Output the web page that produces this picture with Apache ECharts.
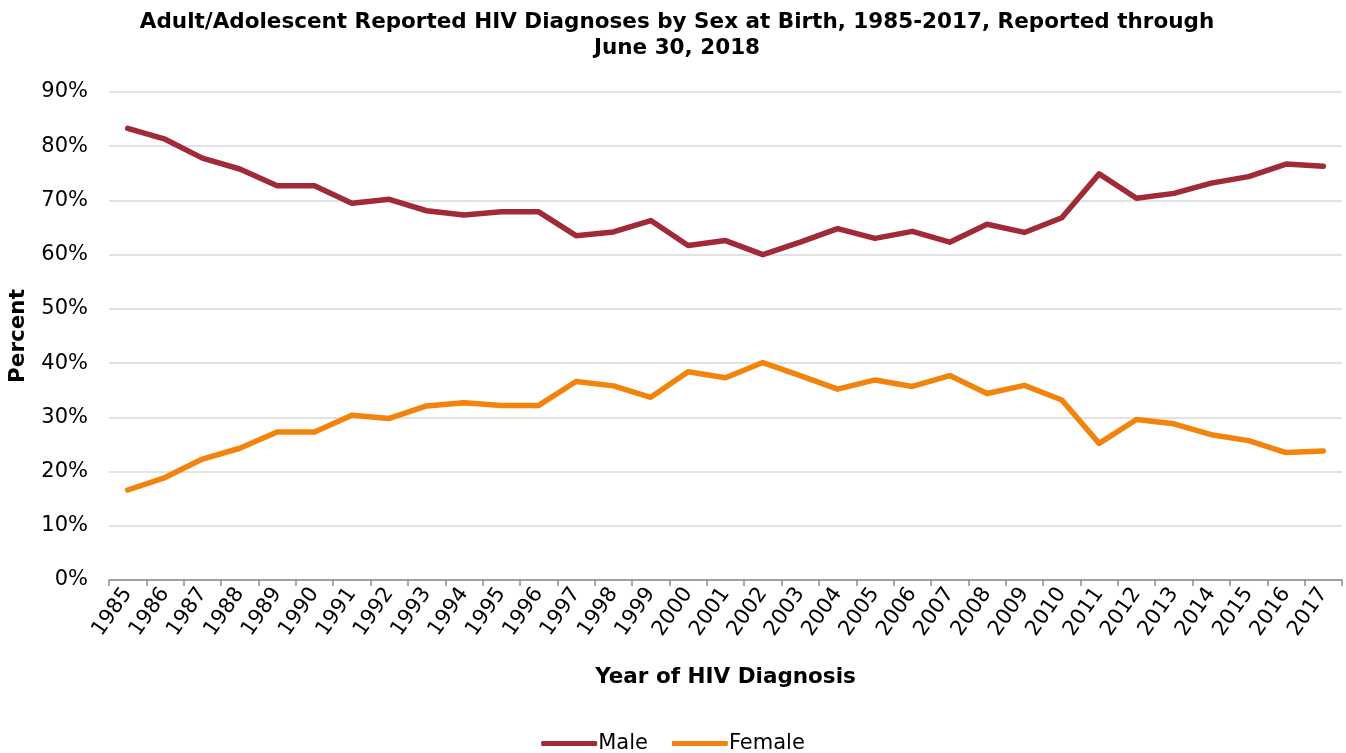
<!DOCTYPE html>
<html>
<head>
<meta charset="utf-8">
<script src="https://cdn.jsdelivr.net/npm/echarts@6/dist/echarts.min.js"></script>
<style>html,body{margin:0;padding:0;background:#fff;}#c{width:1346px;height:753px;}</style>
</head>
<body>
<div id="c"></div>
<script>
const years = ['1985','1986','1987','1988','1989','1990','1991','1992','1993','1994','1995','1996','1997','1998','1999','2000','2001','2002','2003','2004','2005','2006','2007','2008','2009','2010','2011','2012','2013','2014','2015','2016','2017'];
const male = [83.3,81.3,77.8,75.8,72.7,72.7,69.5,70.2,68.1,67.3,67.9,67.9,63.5,64.2,66.3,61.7,62.6,60.0,62.3,64.8,63.0,64.3,62.3,65.6,64.1,66.8,74.9,70.4,71.3,73.2,74.4,76.7,76.3];
const female = [16.6,18.9,22.3,24.3,27.3,27.3,30.4,29.8,32.1,32.7,32.2,32.2,36.6,35.8,33.7,38.4,37.3,40.1,37.7,35.2,36.9,35.7,37.7,34.4,35.9,33.2,25.2,29.6,28.8,26.8,25.7,23.5,23.8];
const yTicks = [0,10,20,30,40,50,60,70,80,90];

const FONT = 'DejaVu Sans, Verdana, sans-serif';
const chart = echarts.init(document.getElementById('c'));
chart.setOption({
  animation: false,
  textStyle: {fontFamily: FONT},
  title: {
    text: 'Adult/Adolescent Reported HIV Diagnoses by Sex at Birth, 1985-2017, Reported through\nJune 30, 2018',
    left: 672, top: 4, textAlign: 'center',
    textStyle: {fontFamily: FONT, fontSize: 21.5, fontWeight: 'bold', color: '#000', lineHeight: 26}
  },
  grid: {left: 109, right: 4, top: 92, bottom: 173, containLabel: false, outerBoundsMode: 'none'},
  legend: {
    top: 728, left: 'center',
    itemWidth: 56, itemHeight: 5, itemGap: 24,
    icon: 'roundRect',
    textStyle: {fontFamily: FONT, fontSize: 21, color: '#000', padding: [0,0,0,-4]},
    data: ['Male','Female']
  },
  xAxis: {
    type: 'category', data: years, boundaryGap: true,
    name: 'Year of HIV Diagnosis', nameLocation: 'middle', nameGap: 86,
    nameTextStyle: {fontFamily: FONT, fontSize: 21.5, fontWeight: 'bold', color: '#000'},
    axisLine: {lineStyle: {color: '#8c8c8c', width: 1.5}},
    axisTick: {show: true, length: 6, lineStyle: {color: '#8c8c8c', width: 1.5}},
    axisLabel: {rotate: 55, fontSize: 21, color: '#000', margin: 10, interval: 0, fontFamily: FONT}
  },
  yAxis: {
    type: 'value', min: 0, max: 90, interval: 10,
    name: 'Percent', nameLocation: 'middle', nameGap: 80, nameRotate: 90,
    nameTextStyle: {fontFamily: FONT, fontSize: 21.5, fontWeight: 'bold', color: '#000'},
    axisLine: {show: false}, axisTick: {show: false},
    axisLabel: {fontSize: 21, color: '#000', margin: 21, fontFamily: FONT,
      formatter: v => yTicks.includes(v) ? v + '%' : ''},
    splitLine: {lineStyle: {color: '#d9d9d9', width: 1.5}}
  },
  series: [
    {name: 'Male', type: 'line', data: male, symbol: 'none', lineStyle: {color: '#A12A37', width: 5.5, cap: 'round', join: 'round'}, itemStyle: {color: '#A12A37'}},
    {name: 'Female', type: 'line', data: female, symbol: 'none', lineStyle: {color: '#F2830C', width: 5.5, cap: 'round', join: 'round'}, itemStyle: {color: '#F2830C'}}
  ]
});
</script>
</body>
</html>
